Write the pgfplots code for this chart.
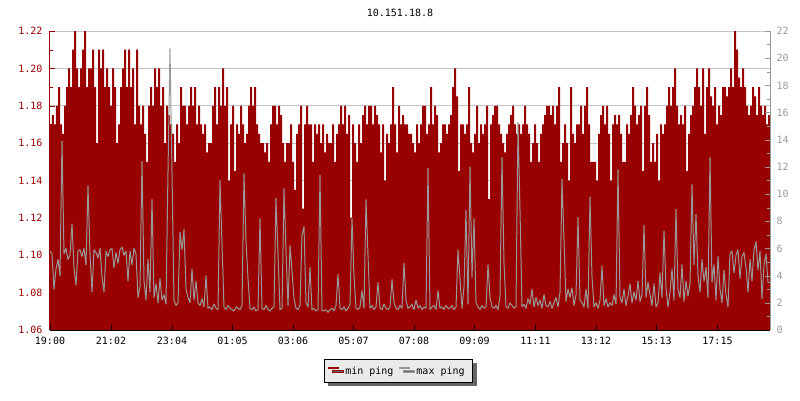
\documentclass[border=0pt]{standalone}
\usepackage{fontspec}
\setmainfont{DejaVu Sans Mono}
\usepackage{pgfplots}
\usepackage{pgfplotstable}
\pgfplotsset{compat=1.18}
\usetikzlibrary{shadows}
\definecolor{minred}{HTML}{990000}
\definecolor{maxgray}{HTML}{999999}
\definecolor{gridgray}{HTML}{C4C4C4}
\definecolor{leggray}{HTML}{EAEAEA}

% min ping, one value every 4 minutes from 19:00
\pgfplotstableread[row sep=\\]{
v\\
1.17\\ 1.175\\ 1.17\\ 1.18\\ 1.19\\ 1.17\\ 1.165\\ 1.18\\ 1.19\\ 1.20\\ 1.19\\ 1.21\\ 1.22\\ 1.20\\ 1.19\\ 1.20\\ 1.21\\ 1.22\\ 1.19\\ 1.20\\
1.20\\ 1.21\\ 1.19\\ 1.16\\ 1.21\\ 1.20\\ 1.21\\ 1.19\\ 1.20\\ 1.19\\ 1.18\\ 1.20\\ 1.19\\ 1.16\\ 1.17\\ 1.19\\ 1.20\\ 1.21\\ 1.19\\ 1.21\\
1.19\\ 1.20\\ 1.17\\ 1.21\\ 1.18\\ 1.17\\ 1.18\\ 1.165\\ 1.15\\ 1.18\\ 1.19\\ 1.18\\ 1.20\\ 1.19\\ 1.20\\ 1.18\\ 1.19\\ 1.16\\ 1.18\\ 1.175\\
1.17\\ 1.165\\ 1.15\\ 1.17\\ 1.16\\ 1.19\\ 1.18\\ 1.18\\ 1.17\\ 1.18\\ 1.19\\ 1.18\\ 1.19\\ 1.17\\ 1.18\\ 1.17\\ 1.165\\ 1.17\\ 1.155\\ 1.16\\
1.16\\ 1.18\\ 1.19\\ 1.17\\ 1.19\\ 1.18\\ 1.20\\ 1.18\\ 1.19\\ 1.14\\ 1.17\\ 1.18\\ 1.145\\ 1.17\\ 1.165\\ 1.18\\ 1.17\\ 1.16\\ 1.165\\ 1.18\\
1.19\\ 1.18\\ 1.19\\ 1.17\\ 1.165\\ 1.16\\ 1.16\\ 1.155\\ 1.16\\ 1.15\\ 1.17\\ 1.18\\ 1.18\\ 1.17\\ 1.18\\ 1.175\\ 1.16\\ 1.15\\ 1.16\\ 1.16\\
1.17\\ 1.15\\ 1.135\\ 1.165\\ 1.17\\ 1.18\\ 1.125\\ 1.17\\ 1.18\\ 1.17\\ 1.17\\ 1.15\\ 1.17\\ 1.165\\ 1.17\\ 1.16\\ 1.17\\ 1.155\\ 1.165\\ 1.16\\
1.16\\ 1.17\\ 1.15\\ 1.165\\ 1.17\\ 1.18\\ 1.17\\ 1.18\\ 1.165\\ 1.175\\ 1.12\\ 1.17\\ 1.16\\ 1.15\\ 1.17\\ 1.16\\ 1.175\\ 1.18\\ 1.17\\ 1.18\\
1.18\\ 1.17\\ 1.18\\ 1.175\\ 1.17\\ 1.155\\ 1.17\\ 1.14\\ 1.165\\ 1.16\\ 1.17\\ 1.19\\ 1.17\\ 1.155\\ 1.18\\ 1.17\\ 1.175\\ 1.17\\ 1.17\\ 1.165\\
1.165\\ 1.16\\ 1.155\\ 1.17\\ 1.16\\ 1.17\\ 1.18\\ 1.18\\ 1.165\\ 1.17\\ 1.19\\ 1.17\\ 1.18\\ 1.175\\ 1.155\\ 1.16\\ 1.17\\ 1.17\\ 1.165\\ 1.17\\
1.175\\ 1.19\\ 1.20\\ 1.185\\ 1.145\\ 1.17\\ 1.17\\ 1.165\\ 1.17\\ 1.19\\ 1.16\\ 1.155\\ 1.165\\ 1.18\\ 1.16\\ 1.17\\ 1.165\\ 1.17\\ 1.18\\ 1.13\\
1.17\\ 1.175\\ 1.18\\ 1.18\\ 1.17\\ 1.165\\ 1.16\\ 1.155\\ 1.165\\ 1.17\\ 1.175\\ 1.18\\ 1.17\\ 1.165\\ 1.17\\ 1.165\\ 1.17\\ 1.18\\ 1.17\\ 1.165\\
1.15\\ 1.16\\ 1.17\\ 1.16\\ 1.15\\ 1.165\\ 1.17\\ 1.175\\ 1.18\\ 1.18\\ 1.175\\ 1.18\\ 1.17\\ 1.18\\ 1.19\\ 1.15\\ 1.16\\ 1.17\\ 1.16\\ 1.14\\
1.19\\ 1.165\\ 1.16\\ 1.17\\ 1.17\\ 1.18\\ 1.165\\ 1.18\\ 1.19\\ 1.17\\ 1.15\\ 1.15\\ 1.15\\ 1.14\\ 1.165\\ 1.175\\ 1.18\\ 1.17\\ 1.18\\ 1.165\\
1.14\\ 1.17\\ 1.175\\ 1.17\\ 1.175\\ 1.165\\ 1.15\\ 1.15\\ 1.17\\ 1.165\\ 1.175\\ 1.19\\ 1.18\\ 1.17\\ 1.175\\ 1.18\\ 1.145\\ 1.18\\ 1.19\\ 1.175\\
1.15\\ 1.16\\ 1.15\\ 1.165\\ 1.14\\ 1.17\\ 1.165\\ 1.17\\ 1.18\\ 1.19\\ 1.18\\ 1.19\\ 1.20\\ 1.18\\ 1.17\\ 1.175\\ 1.17\\ 1.18\\ 1.145\\ 1.165\\
1.175\\ 1.18\\ 1.19\\ 1.20\\ 1.19\\ 1.18\\ 1.20\\ 1.165\\ 1.19\\ 1.20\\ 1.185\\ 1.18\\ 1.19\\ 1.17\\ 1.18\\ 1.175\\ 1.19\\ 1.19\\ 1.185\\ 1.19\\
1.20\\ 1.19\\ 1.22\\ 1.21\\ 1.195\\ 1.19\\ 1.20\\ 1.19\\ 1.18\\ 1.175\\ 1.18\\ 1.19\\ 1.185\\ 1.175\\ 1.19\\ 1.18\\ 1.175\\ 1.18\\ 1.17\\ 1.175\\
1.175\\
}\minping

% max ping, same times
\pgfplotstableread[row sep=\\]{
v\\
5.8\\ 5.6\\ 3.0\\ 4.5\\ 5.2\\ 4.0\\ 13.9\\ 5.6\\ 6.0\\ 5.2\\ 5.5\\ 7.8\\ 4.6\\ 3.3\\ 5.8\\ 5.9\\ 5.4\\ 6.0\\ 4.8\\ 10.6\\
5.6\\ 2.8\\ 5.9\\ 5.7\\ 5.3\\ 6.0\\ 3.9\\ 2.8\\ 5.8\\ 5.4\\ 5.9\\ 6.0\\ 4.6\\ 5.7\\ 4.9\\ 5.9\\ 6.1\\ 5.5\\ 5.8\\ 3.6\\
5.8\\ 4.8\\ 6.0\\ 5.6\\ 2.4\\ 3.2\\ 12.4\\ 3.6\\ 2.2\\ 5.2\\ 2.8\\ 9.6\\ 2.4\\ 3.4\\ 2.0\\ 3.8\\ 2.2\\ 2.6\\ 1.9\\ 11.7\\
20.7\\ 11.5\\ 2.2\\ 1.8\\ 2.0\\ 7.2\\ 5.9\\ 7.4\\ 3.0\\ 2.4\\ 2.0\\ 4.5\\ 2.2\\ 3.6\\ 2.0\\ 1.8\\ 2.3\\ 1.7\\ 4.0\\ 1.6\\
1.7\\ 1.5\\ 1.9\\ 1.6\\ 1.5\\ 11.0\\ 6.3\\ 1.7\\ 1.5\\ 1.8\\ 1.6\\ 1.5\\ 1.4\\ 1.7\\ 1.6\\ 1.5\\ 1.8\\ 11.5\\ 6.5\\ 3.8\\
1.6\\ 1.5\\ 1.7\\ 1.4\\ 1.5\\ 8.2\\ 1.6\\ 1.5\\ 1.8\\ 1.5\\ 1.4\\ 1.6\\ 1.7\\ 9.7\\ 5.6\\ 1.5\\ 1.6\\ 10.4\\ 5.9\\ 1.8\\
6.2\\ 4.4\\ 2.3\\ 1.6\\ 1.5\\ 1.8\\ 7.0\\ 7.6\\ 2.0\\ 1.7\\ 4.6\\ 1.5\\ 1.6\\ 1.4\\ 1.5\\ 11.4\\ 1.4\\ 1.4\\ 1.5\\ 1.3\\
1.5\\ 1.6\\ 1.4\\ 1.8\\ 4.1\\ 1.6\\ 1.5\\ 1.7\\ 1.4\\ 1.6\\ 1.9\\ 8.2\\ 4.0\\ 1.6\\ 1.5\\ 1.7\\ 2.9\\ 1.6\\ 9.6\\ 5.5\\
1.6\\ 1.8\\ 1.5\\ 1.7\\ 3.5\\ 1.6\\ 1.5\\ 1.9\\ 1.6\\ 1.5\\ 1.7\\ 3.7\\ 2.0\\ 1.6\\ 1.5\\ 1.8\\ 1.6\\ 4.9\\ 2.2\\ 1.6\\
1.7\\ 1.9\\ 1.5\\ 2.2\\ 1.6\\ 1.8\\ 1.5\\ 1.7\\ 1.6\\ 11.9\\ 1.5\\ 1.7\\ 1.8\\ 1.5\\ 2.9\\ 1.6\\ 1.7\\ 1.5\\ 1.8\\ 1.6\\
1.6\\ 1.8\\ 1.5\\ 1.7\\ 5.9\\ 3.8\\ 1.6\\ 3.2\\ 8.8\\ 1.9\\ 12.0\\ 3.9\\ 8.2\\ 2.0\\ 1.7\\ 1.5\\ 1.8\\ 1.6\\ 1.7\\ 4.8\\
2.4\\ 1.7\\ 1.6\\ 1.8\\ 1.5\\ 2.5\\ 12.7\\ 4.9\\ 1.7\\ 1.6\\ 2.0\\ 1.8\\ 1.6\\ 1.7\\ 15.3\\ 8.8\\ 1.7\\ 1.9\\ 1.6\\ 2.3\\
1.9\\ 3.0\\ 1.7\\ 2.4\\ 1.8\\ 2.2\\ 1.6\\ 2.6\\ 1.8\\ 1.7\\ 2.1\\ 1.6\\ 2.0\\ 2.4\\ 1.7\\ 2.8\\ 11.1\\ 6.6\\ 2.1\\ 3.0\\
2.4\\ 3.1\\ 1.8\\ 2.6\\ 8.3\\ 2.2\\ 2.0\\ 1.7\\ 3.0\\ 1.6\\ 9.8\\ 3.9\\ 1.7\\ 2.0\\ 1.6\\ 2.2\\ 4.7\\ 1.8\\ 2.3\\ 1.7\\
2.0\\ 1.8\\ 2.6\\ 1.9\\ 11.8\\ 2.4\\ 2.0\\ 3.0\\ 1.8\\ 2.5\\ 3.4\\ 2.0\\ 2.8\\ 2.2\\ 3.6\\ 2.1\\ 2.6\\ 7.7\\ 2.4\\ 3.5\\
2.6\\ 1.8\\ 3.4\\ 1.7\\ 2.0\\ 4.2\\ 2.4\\ 7.3\\ 3.1\\ 1.7\\ 2.8\\ 4.5\\ 2.2\\ 8.9\\ 3.0\\ 2.4\\ 4.8\\ 2.1\\ 3.6\\ 2.5\\
3.4\\ 10.7\\ 4.8\\ 8.5\\ 4.0\\ 2.8\\ 5.2\\ 3.6\\ 4.6\\ 2.4\\ 12.7\\ 3.5\\ 4.8\\ 2.2\\ 5.4\\ 3.0\\ 2.0\\ 4.4\\ 2.6\\ 1.7\\
5.6\\ 5.8\\ 4.2\\ 5.5\\ 5.9\\ 3.8\\ 5.4\\ 5.7\\ 4.6\\ 2.8\\ 5.2\\ 3.6\\ 5.9\\ 6.5\\ 4.4\\ 5.8\\ 2.3\\ 4.8\\ 5.6\\ 3.5\\
3.5\\
}\maxping

\pgfplotsset{
  pingbase/.style={
    scale only axis, width=720pt, height=299pt,
    xmin=0, xmax=1440,
    xtick={0,122,244,365,486,607,728,849,971,1092,1213,1335},
    tick align=inside,
    major tick length=5pt, minor tick length=3.5pt,
    axis line style={-},
    every tick label/.append style={font=\fontsize{10}{12}\selectfont},
    /pgf/number format/assume math mode=true,
  },
}

\begin{document}
\begin{tikzpicture}
\useasboundingbox (-50pt,-70pt) rectangle (750pt,330pt);
\begin{axis}[pingbase,
  ymin=1.06, ymax=1.22,
  ytick={1.06,1.08,1.10,1.12,1.14,1.16,1.18,1.20,1.22},
  minor ytick={1.07,1.09,1.11,1.13,1.15,1.17,1.19,1.21},
  yticklabel style={/pgf/number format/fixed, /pgf/number format/fixed zerofill,
    /pgf/number format/precision=2, color=minred, xshift=-4pt},
  xticklabels={19:00,21:02,23:04,01:05,03:06,05:07,07:08,09:09,11:11,13:12,15:13,17:15},
  xticklabel style={yshift=-3.5pt},
  axis x line*=bottom, axis y line*=left,
  x axis line style={black, line width=1pt},
  y axis line style={minred, line width=1pt},
  ytick style={minred}, xtick style={black},
  ymajorgrids, grid style={gridgray, line width=1pt},
]
\addplot[const plot, fill=minred, draw=none] table[x expr=\coordindex*4, y=v] {\minping} \closedcycle;
\end{axis}
\begin{axis}[pingbase,
  ymin=0, ymax=22,
  ytick={0,2,...,22}, minor ytick={1,3,...,21},
  axis x line*=bottom, axis y line*=right,
  xticklabels={},
  x axis line style={black, line width=1pt},
  y axis line style={maxgray, line width=1pt},
  ytick style={maxgray}, xtick style={black},
  yticklabel style={color=maxgray, xshift=3pt},
  legend columns=-1,
  legend image code/.code={\fill[#1, draw=none] (0pt,2pt) rectangle (11pt,4.5pt);},
  legend style={at={(0.484,-0.097)}, anchor=north, draw=black, line width=1pt,
    fill=leggray, font=\fontsize{10}{12}\selectfont,
    drop shadow={shadow xshift=4pt, shadow yshift=-3.5pt, fill=black!60, opacity=1},
    inner xsep=4pt, inner ysep=5pt,
    /tikz/every even column/.append style={column sep=4pt}},
]
\addlegendimage{minred}
\addlegendentry{\hspace*{4pt}min ping}
\addplot[sharp plot, maxgray, line width=1pt, line join=round] table[x expr=\coordindex*4, y=v] {\maxping};
\addlegendentry{\hspace*{4pt}max ping\hspace*{2pt}}
\end{axis}
\node[font=\fontsize{10}{12}\selectfont] at (350pt,317pt) {10.151.18.8};
\end{tikzpicture}
\end{document}
